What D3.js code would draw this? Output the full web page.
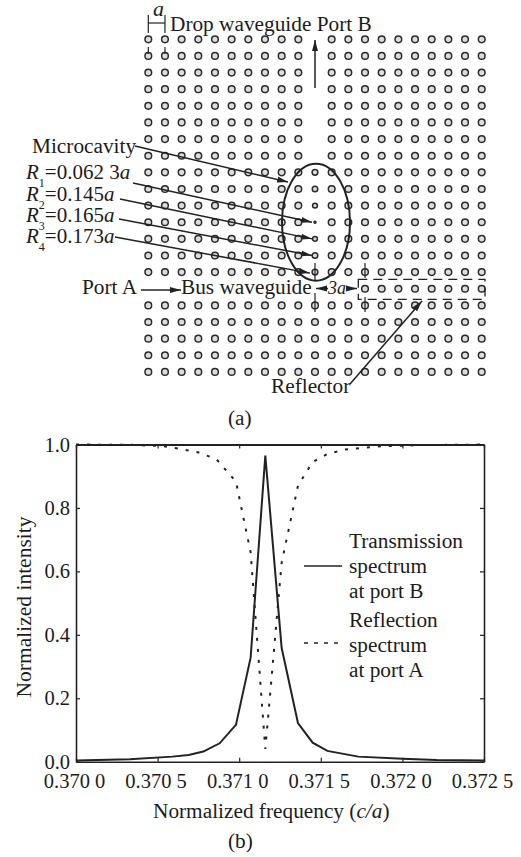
<!DOCTYPE html>
<html>
<head>
<meta charset="utf-8">
<script src="https://d3js.org/d3.v7.min.js"></script>
<style>
    html, body { margin: 0; background: #fff; }
    svg { display: block; }
    text { font-family: "Liberation Serif", serif; fill: #1c1c1c; }
</style>
</head>
<body>
<div id="my_dataviz"></div>
<script>
// panel (a): lattice
var latticeCols = d3.range(21);
var latticeRows = d3.range(21);
var dropRows = [0, 1, 2, 3, 4, 5, 6, 7];
var busCols = d3.range(13);
var cavityRows = [8, 9, 10, 11, 12, 13, 14];
var cavityRadii = [0.173, 0.165, 0.145, 0.0623, 0.145, 0.165, 0.173];
var normalRadius = 0.2;

// panel (b): spectra
var transFreq = [0.37000, 0.37033, 0.37059, 0.37069, 0.37078, 0.37088, 0.37098, 0.37107, 0.37116,
    0.37126, 0.37136, 0.37145, 0.37154, 0.37173, 0.37200, 0.37221, 0.37250];
var transValue = [0.004, 0.008, 0.016, 0.021, 0.032, 0.058, 0.116, 0.328, 0.965,
    0.359, 0.122, 0.060, 0.034, 0.016, 0.009, 0.005, 0.004];
var reflFreq = [0.37000, 0.37033, 0.37053, 0.37066, 0.37075, 0.37086, 0.37098, 0.37107, 0.37116,
    0.37126, 0.37136, 0.37145, 0.37154, 0.37165, 0.37185, 0.37210, 0.37250];
var reflValue = [1.000, 0.999, 0.995, 0.984, 0.975, 0.954, 0.883, 0.660, 0.040,
    0.627, 0.870, 0.945, 0.970, 0.984, 0.994, 0.998, 1.000];
var xTicks = [0.3700, 0.3705, 0.3710, 0.3715, 0.3720, 0.3725];
var xTickLabels = ["0.370 0", "0.370 5", "0.371 0", "0.371 5", "0.372 0", "0.372 5"];
var yTicks = [0, 0.2, 0.4, 0.6, 0.8, 1.0];
var yTickLabels = ["0.0", "0.2", "0.4", "0.6", "0.8", "1.0"];
var cavityLabels = [
    [["R", 1], ["1", 2], ["=0.062 3", 0], ["a", 1]],
    [["R", 1], ["2", 2], ["=0.145", 0], ["a", 1]],
    [["R", 1], ["3", 2], ["=0.165", 0], ["a", 1]],
    [["R", 1], ["4", 2], ["=0.173", 0], ["a", 1]]
];

var ink = "#222";
var svg = d3.select("#my_dataviz")
    .append("svg")
    .attr("width", 521)
    .attr("height", 857);

svg.append("defs").append("marker")
    .attr("id", "head")
    .attr("markerUnits", "userSpaceOnUse")
    .attr("markerWidth", 12)
    .attr("markerHeight", 7)
    .attr("refX", 11)
    .attr("refY", 3.5)
    .attr("orient", "auto")
    .append("path")
    .attr("d", "M0,0.5L11,3.5L0,6.5Z")
    .attr("fill", ink);

function line(x1, y1, x2, y2, w) {
    return svg.append("line")
        .attr("x1", x1).attr("y1", y1)
        .attr("x2", x2).attr("y2", y2)
        .attr("stroke", ink)
        .attr("stroke-width", w || 1.2);
}

function arrow(x1, y1, x2, y2) {
    return line(x1, y1, x2, y2, 1.5).attr("marker-end", "url(#head)");
}

function label(x, y, str, size, style) {
    return svg.append("text")
        .attr("x", x).attr("y", y)
        .style("font-size", (size || 21.3) + "px")
        .style("font-style", style || "normal")
        .text(str);
}

// --- panel (a) ---
var latX = d3.scaleLinear().domain([0, 20]).range([148.3, 481.7]);
var latY = d3.scaleLinear().domain([0, 20]).range([39.3, 371.9]);
var aUnit = latX(1) - latX(0);

var holes = [];
latticeRows.forEach(function(r) {
    latticeCols.forEach(function(c) {
        if (c === 10 && dropRows.includes(r)) return;
        if (r === 15 && (busCols.includes(c))) return;
        var radius = normalRadius;
        if (c === 10 && cavityRows.includes(r)) radius = cavityRadii[cavityRows.indexOf(r)];
        holes.push({ r: r, c: c, radius: radius });
    });
});

svg.append("g").selectAll("circle")
    .data(holes)
    .enter()
    .append("circle")
    .attr("cx", function(d) { return latX(d.c); })
    .attr("cy", function(d) { return latY(d.r); })
    .attr("r", function(d) { return d.radius * aUnit; })
    .attr("fill", "#ddd")
    .attr("stroke", "#2a2a2a")
    .attr("stroke-width", 1.5);

// lattice constant mark
[0, 1].forEach(function(c) {
    line(latX(c), 15, latX(c), 33);
    line(latX(c), 47, latX(c), 54);
});
line(latX(0), 23, latX(1), 23);
label(153, 16, "a", 22, "italic");
label(170, 31, "Drop waveguide Port B");
arrow(latX(10), 88, latX(10), 40);

// microcavity
svg.append("ellipse")
    .attr("cx", latX(10) + 1)
    .attr("cy", latY(11))
    .attr("rx", 34)
    .attr("ry", 58.5)
    .attr("fill", "none")
    .attr("stroke", ink)
    .attr("stroke-width", 2);

label(32, 153, "Microcavity");
arrow(135, 146, 288, 182);

var labelBaselines = [179, 201, 222, 243];
cavityLabels.forEach(function(parts, i) {
    var t = svg.append("text")
        .attr("x", 26)
        .attr("y", labelBaselines[i])
        .style("font-size", "21px");
    parts.forEach(function(p) {
        t.append("tspan")
            .style("font-style", p[1] === 1 ? "italic" : "normal")
            .style("font-size", p[1] === 2 ? "12px" : "21px")
            .attr("dy", p[1] === 2 ? 8 : (p[0].charAt(0) === "=" ? -8 : 0))
            .text(p[0]);
    });
});
arrow(133, 183, latX(10) - 3, latY(11));
arrow(120, 199, latX(10) - 3, latY(12));
arrow(119, 219, latX(10) - 3, latY(13));
arrow(115, 237, latX(10) - 5, latY(14) + 1);

// bus waveguide
label(82, 294, "Port A");
arrow(141, 290, 181, 290);
label(181, 294, "Bus waveguide");
line(latX(10), 263, latX(10), 280);
line(latX(10), 293, latX(10), 312);
line(latX(13), 263, latX(13), 278);
line(latX(13), 297, latX(13), 312);
arrow(328, 288.5, 316, 288.5);
arrow(347, 288.5, 357, 288.5);
label(328, 294, "3a", 18, "italic");

svg.append("rect")
    .attr("x", 358.3)
    .attr("y", 279.3)
    .attr("width", 126.7)
    .attr("height", 20)
    .attr("fill", "none")
    .attr("stroke", ink)
    .attr("stroke-width", 1.3)
    .attr("stroke-dasharray", "9,6");

label(271, 393, "Reflector");
arrow(350, 384, 422, 301);
label(228, 425, "(a)");

// --- panel (b) ---
var xScale = d3.scaleLinear().domain([0.37, 0.3725]).range([76, 484]);
var yScale = d3.scaleLinear().domain([0, 1]).range([761.7, 444.5]);

function styleAxis(g, w) {
    g.selectAll(".domain").attr("stroke", ink).attr("stroke-width", w);
    g.selectAll(".tick line").attr("stroke", ink).attr("stroke-width", 1.2);
    g.selectAll(".tick text")
        .style("font-family", "'Liberation Serif', serif")
        .style("font-size", "20.5px")
        .attr("fill", ink);
}

var xAxis = svg.append("g")
    .attr("transform", "translate(0,761.7)")
    .call(d3.axisBottom(xScale)
        .tickValues(xTicks)
        .tickSize(-4)
        .tickSizeOuter(0)
        .tickPadding(12)
        .tickFormat(function(d, i) { return xTickLabels[i]; }));
styleAxis(xAxis, 1.6);
xAxis.selectAll(".tick text").attr("dx", -2);

var xTop = svg.append("g")
    .attr("transform", "translate(0,444.5)")
    .call(d3.axisTop(xScale).tickValues(xTicks).tickSize(-4).tickSizeOuter(0).tickFormat(""));
styleAxis(xTop, 2);

var yAxis = svg.append("g")
    .attr("transform", "translate(76,0)")
    .call(d3.axisLeft(yScale)
        .tickValues(yTicks)
        .tickSize(-4)
        .tickSizeOuter(0)
        .tickPadding(6)
        .tickFormat(function(d, i) { return yTickLabels[i]; }));
styleAxis(yAxis, 1.6);

var yRight = svg.append("g")
    .attr("transform", "translate(484,0)")
    .call(d3.axisRight(yScale).tickValues(yTicks).tickSize(-4).tickSizeOuter(0).tickFormat(""));
styleAxis(yRight, 1.6);

function spectrum(freq, values) {
    return d3.line()
        .x(function(d) { return xScale(d); })
        .y(function(d, i) { return yScale(values[i]); })(freq);
}

svg.append("path")
    .attr("d", spectrum(transFreq, transValue))
    .attr("fill", "none")
    .attr("stroke", ink)
    .attr("stroke-width", 2);

svg.append("path")
    .attr("d", spectrum(reflFreq, reflValue))
    .attr("fill", "none")
    .attr("stroke", ink)
    .attr("stroke-width", 2)
    .attr("stroke-dasharray", "3,8");

// legend
line(304, 566, 342, 566, 1.5);
line(304, 643, 342, 643, 1.5).attr("stroke-dasharray", "4,6");
label(349, 548, "Transmission");
label(349, 573, "spectrum");
label(349, 598, "at port B");
label(349, 627, "Reflection");
label(349, 652, "spectrum");
label(349, 677, "at port A");

// axis titles
var xTitle = label(153, 818, "Normalized frequency (");
xTitle.append("tspan").style("font-style", "italic").text("c/a");
xTitle.append("tspan").text(")");

svg.append("text")
    .attr("transform", "translate(31,607) rotate(-90)")
    .attr("text-anchor", "middle")
    .style("font-size", "21.5px")
    .text("Normalized intensity");

label(228, 848, "(b)");
</script>
</body>
</html>
